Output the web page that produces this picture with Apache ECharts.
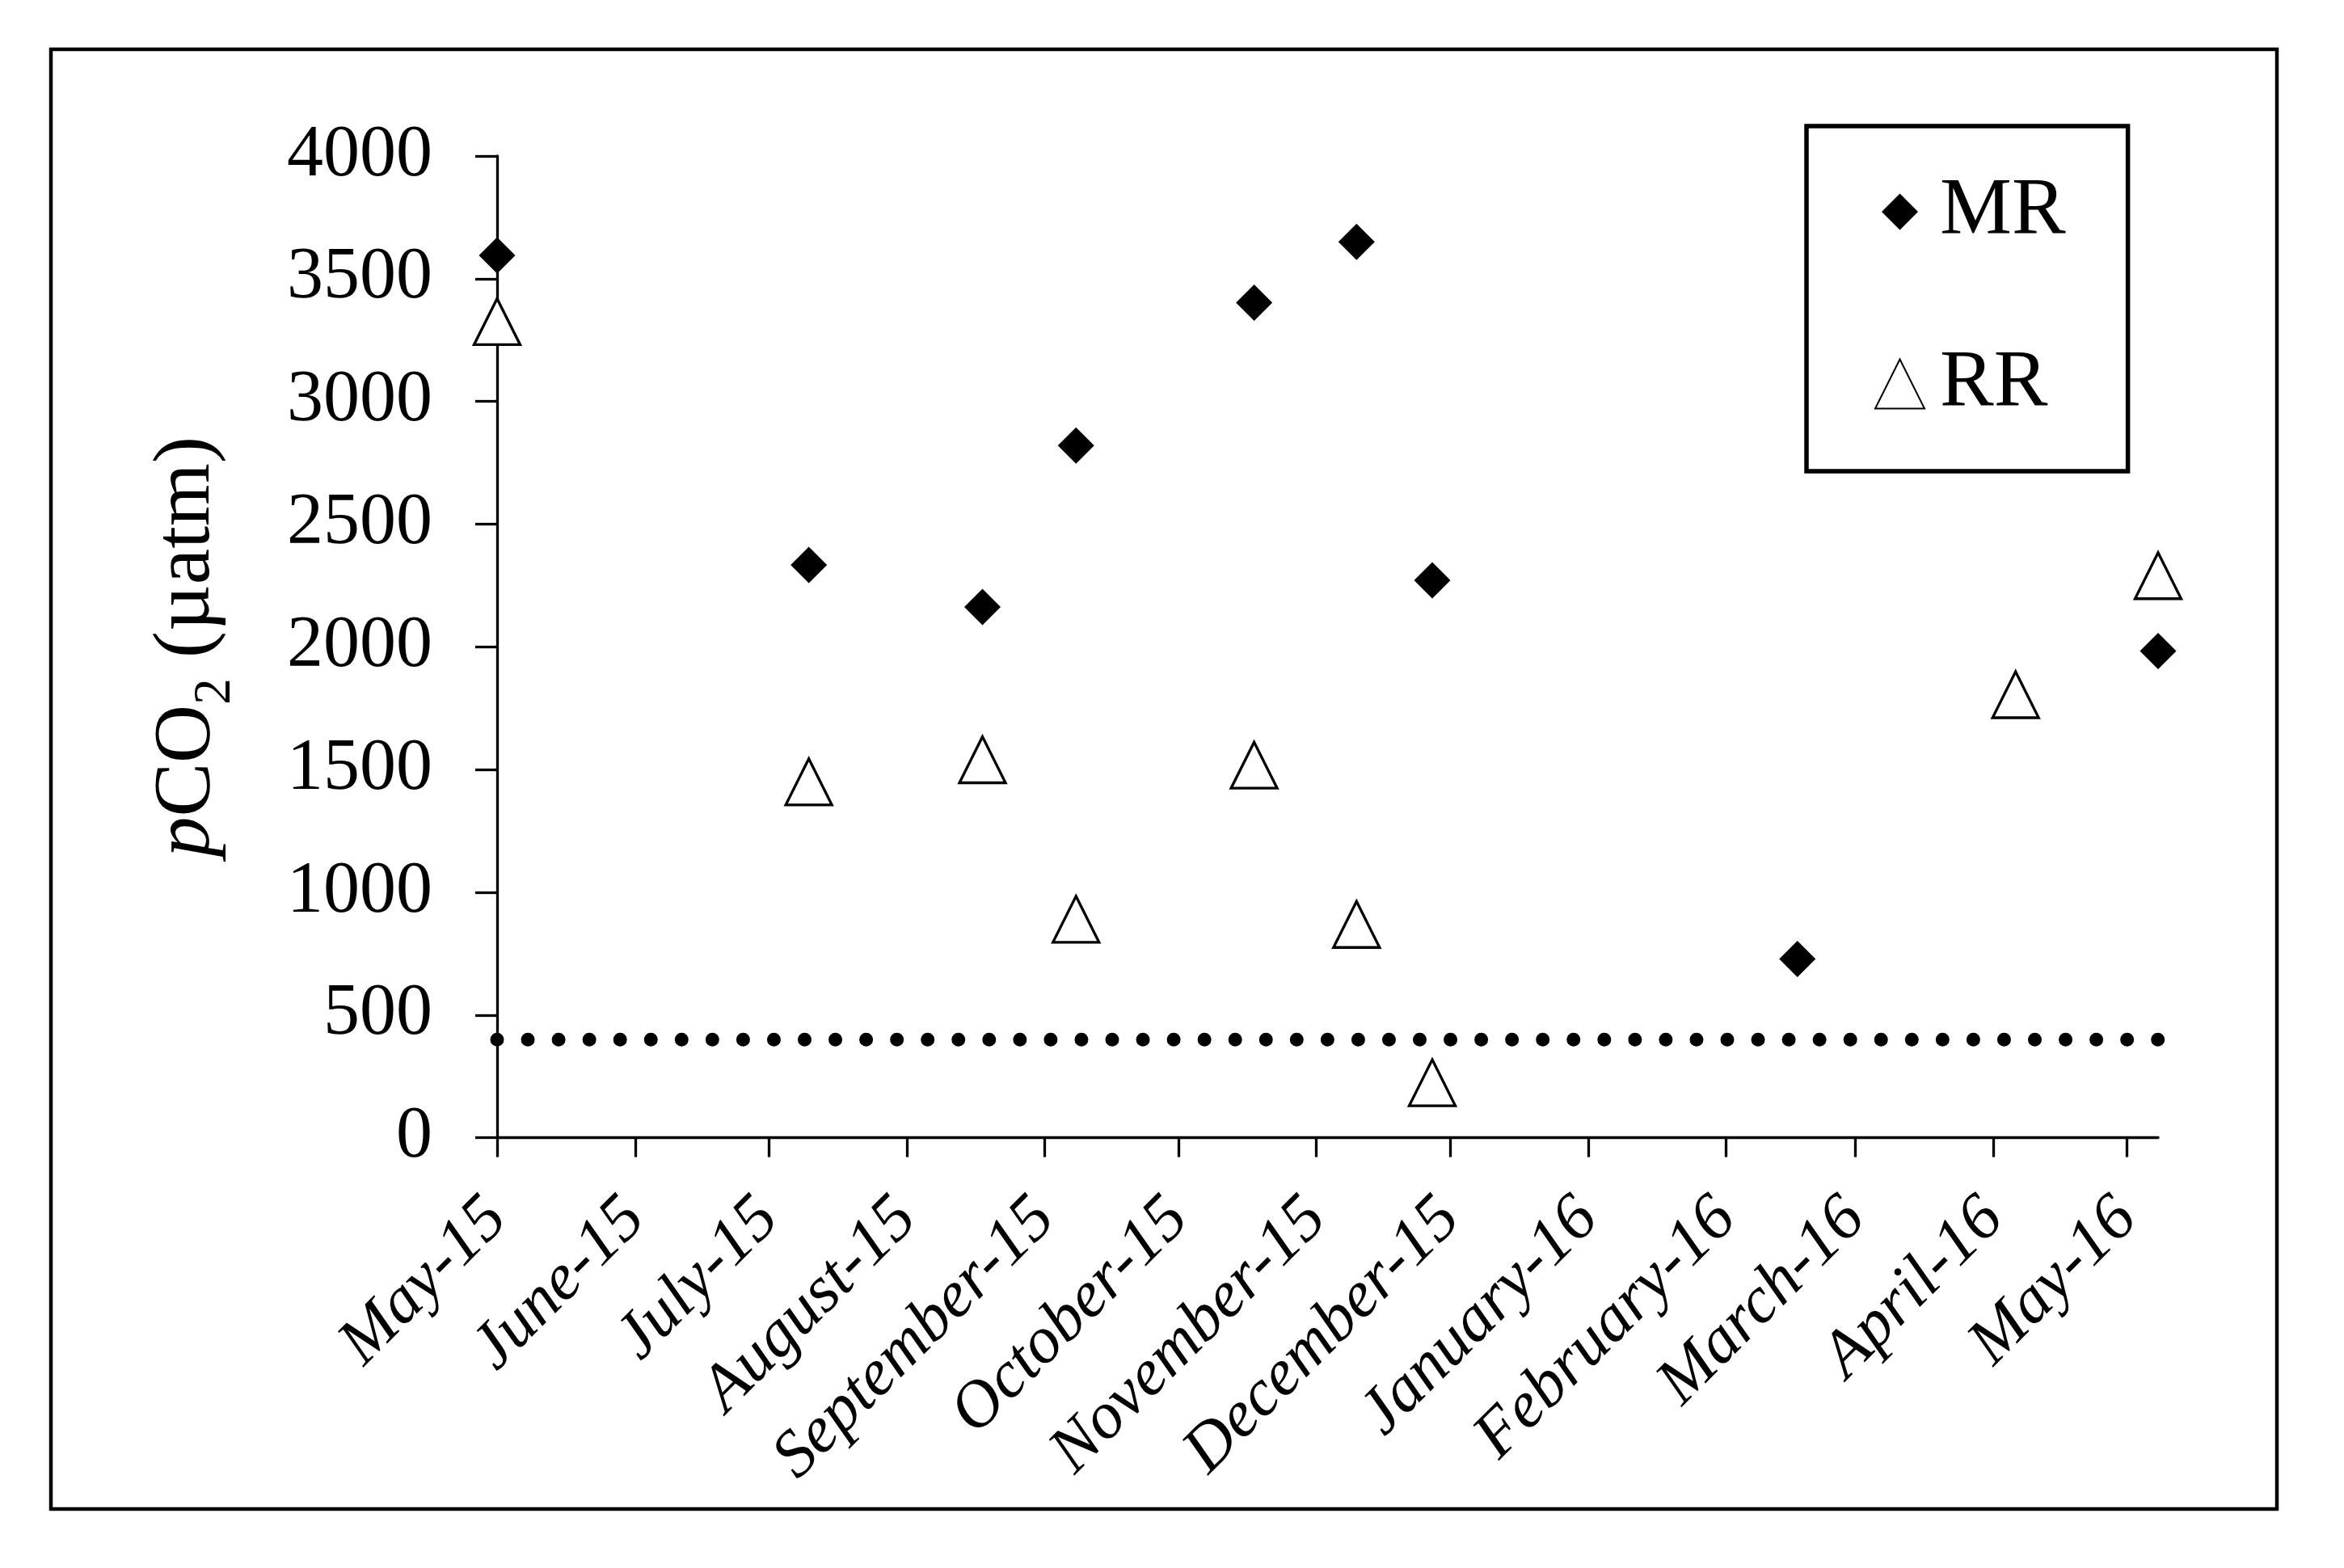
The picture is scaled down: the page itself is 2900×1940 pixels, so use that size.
<!DOCTYPE html>
<html>
<head>
<meta charset="utf-8">
<script src="https://cdn.jsdelivr.net/npm/echarts@6/dist/echarts.min.js"></script>
<style>
html,body{margin:0;padding:0;background:#fff;}
#chart{width:2900px;height:1940px;}
</style>
</head>
<body>
<div id="chart"></div>
<script>
// ---- data ----
const tickDates = ['2015-05-01','2015-06-01','2015-07-01','2015-08-01','2015-09-01','2015-10-01','2015-11-01','2015-12-01','2016-01-01','2016-02-01','2016-03-01','2016-04-01','2016-05-01'];
const tickLabels = ['May-15','June-15','July-15','August-15','September-15','October-15','November-15','December-15','January-16','February-16','March-16','April-16','May-16'];
const axisStart = '2015-05-01';
const axisEnd = '2016-05-08';
const mrDates = ['2015-05-01','2015-07-10','2015-08-18','2015-09-08','2015-10-18','2015-11-10','2015-11-27','2016-02-17','2016-05-08'];
const mrValues = [3595, 2334, 2162, 2820, 3402, 3650, 2271, 728, 1983];
const rrDates = ['2015-05-01','2015-07-10','2015-08-18','2015-09-08','2015-10-18','2015-11-10','2015-11-27','2016-04-06','2016-05-08'];
const rrValues = [3325, 1450, 1540, 890, 1518, 869, 224, 1805, 2290];
const refLevel = 400;
const yTicks = {min: 0, max: 4000, interval: 500};

// ---- build ----
const ts = s => Date.parse(s);
const tickTs = tickDates.map(ts);
const labelMap = {};
tickTs.forEach((t, i) => { labelMap[t] = tickLabels[i]; });
const mrData = mrDates.map((d, i) => [ts(d), mrValues[i]]);
const rrData = rrDates.map((d, i) => [ts(d), rrValues[i]]);
const refData = [[ts(axisStart), refLevel], [ts(axisEnd), refLevel]];

const FONT = "'Liberation Serif', 'Times New Roman', serif";
const chart = echarts.init(document.getElementById('chart'), null, {renderer: 'canvas', width: 2900, height: 1940});

chart.setOption({
  backgroundColor: '#fff',
  animation: false,
  grid: {left: 615, top: 193, right: 230, bottom: 532.4, containLabel: false, outerBoundsMode: 'none'},
  xAxis: {
    type: 'value',
    min: ts(axisStart),
    max: ts(axisEnd),
    splitLine: {show: false},
    axisLine: {show: true, onZero: false, lineStyle: {color: '#000', width: 3.3}},
    axisTick: {show: true, inside: false, length: 24, customValues: tickTs, lineStyle: {color: '#000', width: 3.3}},
    axisLabel: {
      show: true, customValues: tickTs, rotate: 45, margin: 88,
      fontFamily: FONT, fontSize: 82, fontStyle: 'italic', color: '#000',
      formatter: v => labelMap[v] || ''
    }
  },
  yAxis: {
    type: 'value',
    min: yTicks.min, max: yTicks.max, interval: yTicks.interval,
    splitLine: {show: false},
    axisLine: {show: true, lineStyle: {color: '#000', width: 3.3}},
    axisTick: {show: true, inside: false, length: 27, lineStyle: {color: '#000', width: 3.3}},
    axisLabel: {fontFamily: FONT, fontSize: 90, color: '#000', margin: 80, formatter: v => String(v)},
    name: '{i|p}{n|CO}{s|2}{n| (µatm)}',
    nameLocation: 'middle',
    nameRotate: 90,
    nameGap: 316,
    nameTextStyle: {
      fontFamily: FONT, fontSize: 100, color: '#000',
      rich: {
        i: {fontFamily: FONT, fontSize: 100, fontStyle: 'italic', color: '#000', verticalAlign: 'middle'},
        n: {fontFamily: FONT, fontSize: 100, color: '#000', verticalAlign: 'middle'},
        s: {fontFamily: FONT, fontSize: 65, color: '#000', padding: [70, 0, 0, 0], verticalAlign: 'middle'}
      }
    }
  },
  legend: {
    show: true,
    orient: 'vertical',
    left: 2235, top: 156,
    data: [
      {name: 'MR', icon: 'path://M0,0M61,61M8,30.5L30.5,8L53,30.5L30.5,53Z'},
      {name: 'RR', icon: 'triangle'}
    ],
    itemWidth: 61, itemHeight: 61,
    itemGap: 113,
    padding: [56, 77, 58, 84],
    borderColor: '#000', borderWidth: 5.5, borderRadius: 0,
    backgroundColor: '#fff',
    textStyle: {fontFamily: FONT, fontSize: 100, color: '#000', padding: [0, 0, 0, 14]},
    selectedMode: false
  },
  graphic: [{
    type: 'rect', silent: true, z: -10,
    shape: {x: 63, y: 61, width: 2754, height: 1806},
    style: {fill: 'none', stroke: '#000', lineWidth: 4.5}
  }],
  series: [
    {
      name: 'ref', type: 'line', data: refData, symbol: 'none', clip: true,
      lineStyle: {color: '#000', width: 17, type: [0, 38.05], cap: 'round'},
      silent: true, z: 1
    },
    {
      name: 'MR', type: 'scatter', data: mrData, symbol: 'diamond', symbolSize: 45,
      itemStyle: {color: '#000', opacity: 1}, z: 3, clip: false
    },
    {
      name: 'RR', type: 'scatter', data: rrData, symbol: 'triangle', symbolSize: 57,
      itemStyle: {color: '#fff', borderColor: '#000', borderWidth: 3.3, opacity: 1}, z: 2, clip: false
    }
  ]
});
</script>
</body>
</html>
